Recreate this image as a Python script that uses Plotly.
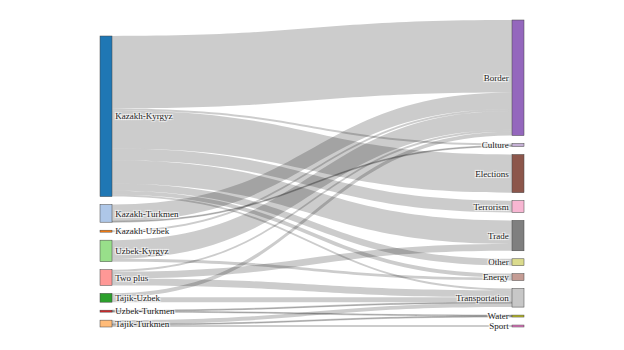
import plotly.graph_objects as go

# Node labels
sources_labels = ["Kazakh-Kyrgyz", "Kazakh-Turkmen", "Kazakh-Uzbek", "Uzbek-Kyrgyz",
                  "Two plus", "Tajik-Uzbek", "Uzbek-Turkmen", "Tajik-Turkmen"]
target_labels = ["Border", "Culture", "Elections", "Terrorism", "Trade", "Other",
                 "Energy", "Transportation", "Water", "Sport"]
node_colors = ["#1f77b4", "#aec7e8", "#ff7f0e", "#98df8a", "#ff9896", "#2ca02c",
               "#d62728", "#ffbb78", "#9467bd", "#c5b0d5", "#8c564b", "#f7b6d2",
               "#7f7f7f", "#dbdb8d", "#c49c94", "#c7c7c7", "#bcbd22", "#e377c2"]

# Links (source label, target label, value)
link_source = ["Kazakh-Kyrgyz"] * 8 + ["Kazakh-Turkmen"] * 2 + ["Kazakh-Uzbek"] + \
              ["Uzbek-Kyrgyz"] * 2 + ["Two plus"] * 3 + ["Tajik-Uzbek"] * 2 + \
              ["Uzbek-Turkmen"] * 2 + ["Tajik-Turkmen"] * 3
link_target = ["Border", "Culture", "Elections", "Terrorism", "Trade", "Other", "Energy", "Transportation",
               "Border", "Culture",
               "Border",
               "Border", "Energy",
               "Border", "Trade", "Transportation",
               "Border", "Transportation",
               "Transportation", "Water",
               "Transportation", "Water", "Sport"]
link_value = [74, 2, 39, 12, 24, 7, 4, 2,
              17, 1,
              2,
              19, 3,
              2, 7, 7,
              4, 5,
              1, 1,
              4, 1, 2]

labels = sources_labels + target_labels
idx = {l: i for i, l in enumerate(labels)}

# ---- layout constants ----
W, H = 624, 350
ML, MR, MT, MB = 100, 100, 20, 23
PAD, THICK = 8, 12
PW, PH = W - ML - MR, H - MT - MB
FONT = "Times New Roman, Liberation Serif, serif"

# node totals from the link data
tot = {}
for l in sources_labels:
    tot[l] = sum(v for s, v in zip(link_source, link_value) if s == l)
for l in target_labels:
    tot[l] = sum(v for t, v in zip(link_target, link_value) if t == l)

cols = [sources_labels, target_labels]
ky = min((PH - (len(c) - 1) * PAD) / sum(tot[l] for l in c) for c in cols)

pos = {}
for ci, c in enumerate(cols):
    colh = sum(tot[l] for l in c) * ky + (len(c) - 1) * PAD
    y = PH - colh  # bottom-aligned column
    for l in c:
        h = tot[l] * ky
        pos[l] = ((THICK / 2) / PW if ci == 0 else 1 - (THICK / 2) / PW, (y + h / 2) / PH)
        y += h + PAD
node_x = [pos[l][0] for l in labels]
node_y = [pos[l][1] for l in labels]

fig = go.Figure(go.Sankey(
    arrangement="fixed",
    node=dict(
        label=labels,
        color=node_colors,
        pad=PAD,
        thickness=THICK,
        x=node_x,
        y=node_y,
        line=dict(color="#444", width=0.5),
    ),
    link=dict(
        source=[idx[s] for s in link_source],
        target=[idx[t] for t in link_target],
        value=link_value,
        color="rgba(0,0,0,0.2)",
    ),
    textfont=dict(family=FONT, size=9, color="#222"),
))

fig.update_layout(
    width=W, height=H,
    margin=dict(l=ML, r=MR, t=MT, b=MB),
    paper_bgcolor="white",
    font=dict(family=FONT, size=9, color="#222"),
)

fig.write_html("out.html")
